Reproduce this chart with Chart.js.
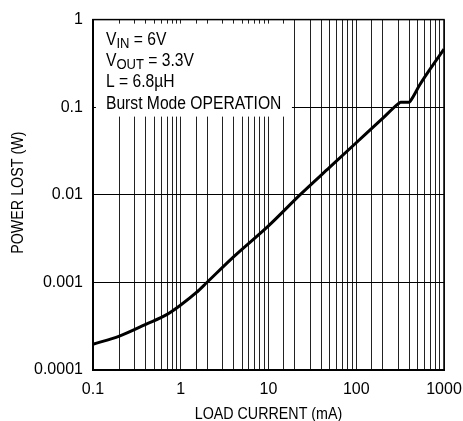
<!DOCTYPE html>
<html>
<head>
<meta charset="utf-8">
<script src="https://cdn.jsdelivr.net/npm/chart.js@4.4.1/dist/chart.umd.min.js"></script>
<style>
  html, body { margin: 0; padding: 0; background: #fff; }
  #wrap { width: 463px; height: 421px; position: relative; }
</style>
</head>
<body>
<div id="wrap"><canvas id="lossChart"></canvas></div>
<script>
// load current (mA) vs power lost (W)
const loadCurrent = [0.1, 0.2, 0.4, 0.7, 1, 1.5, 2, 4, 10, 23, 50, 100, 190, 300, 320, 400, 415, 530, 700, 1000];
const powerLost = [0.000196, 0.000243, 0.000331, 0.00043, 0.00055, 0.00076, 0.001, 0.00195, 0.0044, 0.01, 0.0206, 0.0392, 0.071, 0.109, 0.114, 0.114, 0.118, 0.18, 0.275, 0.46];

const xTickValues = [0.1, 1, 10, 100, 1000];
const xTickLabels = ['0.1', '1', '10', '100', '1000'];
const yTickValues = [0.0001, 0.001, 0.01, 0.1, 1];
const yTickLabels = ['0.0001', '0.001', '0.01', '0.1', '1'];

const FONT = '"Liberation Sans", Arial, Helvetica, sans-serif';
const NARROW = 0.87; // horizontal squeeze for the condensed lettering

function decadeLabel(value, values, labels) {
  const i = values.findIndex(v => Math.abs(Math.log10(v) - Math.log10(value)) < 1e-6);
  return i >= 0 ? labels[i] : '';
}

// draws a run of [text, size, dy] pieces squeezed horizontally
function drawRun(ctx, pieces, x, y) {
  ctx.save();
  ctx.translate(x, y);
  ctx.scale(NARROW, 1);
  let cx = 0;
  pieces.forEach(([txt, size, dy]) => {
    ctx.font = size + 'px ' + FONT;
    ctx.fillText(txt, cx, dy || 0);
    cx += ctx.measureText(txt).width;
  });
  ctx.restore();
}

const notesPlugin = {
  id: 'notes',
  beforeDatasetsDraw(chart) {
    const { ctx, chartArea: a } = chart;
    ctx.save();
    // white block behind the operating conditions
    ctx.fillStyle = '#fff';
    ctx.fillRect(a.left + 3, a.top + 4, 196, 93);

    ctx.fillStyle = '#000';
    ctx.textBaseline = 'alphabetic';
    ctx.textAlign = 'left';
    const x0 = a.left + 13;
    drawRun(ctx, [['V', 18], ['IN', 15, 3], [' = 6V', 18]], x0, a.top + 25);
    drawRun(ctx, [['V', 18], ['OUT', 15, 3], [' = 3.3V', 18]], x0, a.top + 46.5);
    drawRun(ctx, [['L = 6.8\u00B5H', 18]], x0, a.top + 67.5);
    drawRun(ctx, [['Burst Mode OPERATION', 18]], x0, a.top + 89);
    ctx.restore();
  },
  afterDraw(chart) {
    const { ctx, chartArea: a } = chart;
    ctx.save();
    ctx.strokeStyle = '#000';
    ctx.lineWidth = 1.5;
    ctx.strokeRect(a.left, a.top, a.right - a.left, a.bottom - a.top);

    // axis titles
    ctx.fillStyle = '#000';
    ctx.textAlign = 'center';
    ctx.textBaseline = 'alphabetic';
    ctx.font = '17px ' + FONT;
    ctx.save();
    ctx.translate((a.left + a.right) / 2, 419);
    ctx.scale(0.84, 1);
    ctx.fillText('LOAD CURRENT (mA)', 0, 0);
    ctx.restore();

    ctx.save();
    ctx.translate(23, (a.top + a.bottom) / 2 - 2);
    ctx.rotate(-Math.PI / 2);
    ctx.scale(0.84, 1);
    ctx.fillText('POWER LOST (W)', 0, 0);
    ctx.restore();
    ctx.restore();
  }
};

new Chart(document.getElementById('lossChart'), {
  type: 'line',
  data: {
    datasets: [{
      data: loadCurrent.map((x, i) => ({ x: x, y: powerLost[i] })),
      borderColor: '#000',
      borderWidth: 3,
      pointRadius: 0,
      cubicInterpolationMode: 'monotone',
      fill: false
    }]
  },
  options: {
    responsive: true,
    maintainAspectRatio: false,
    animation: false,
    layout: { padding: { left: 24, right: 19, top: 17, bottom: 12 } },
    plugins: { legend: { display: false }, tooltip: { enabled: false }, title: { display: false } },
    scales: {
      x: {
        type: 'logarithmic',
        min: 0.1,
        max: 1000,
        // edge labels may hang past the frame; the layout padding covers them
        afterFit: scale => { scale.paddingLeft = 0; scale.paddingRight = 0; },
        grid: { color: '#222', lineWidth: 1, drawTicks: false },
        border: { color: '#000', width: 2 },
        ticks: {
          autoSkip: false,
          maxRotation: 0,
          padding: 10,
          color: '#000',
          font: { family: FONT, size: 16 },
          callback: v => decadeLabel(v, xTickValues, xTickLabels)
        }
      },
      y: {
        type: 'logarithmic',
        min: 0.0001,
        max: 1,
        afterBuildTicks: scale => { scale.ticks = yTickValues.map(v => ({ value: v })); },
        grid: { color: '#000', lineWidth: 1, drawTicks: false },
        border: { color: '#000', width: 2 },
        ticks: {
          autoSkip: false,
          padding: 10,
          color: '#000',
          font: { family: FONT, size: 16 },
          callback: v => decadeLabel(v, yTickValues, yTickLabels)
        }
      }
    }
  },
  plugins: [notesPlugin]
});
</script>
</body>
</html>
